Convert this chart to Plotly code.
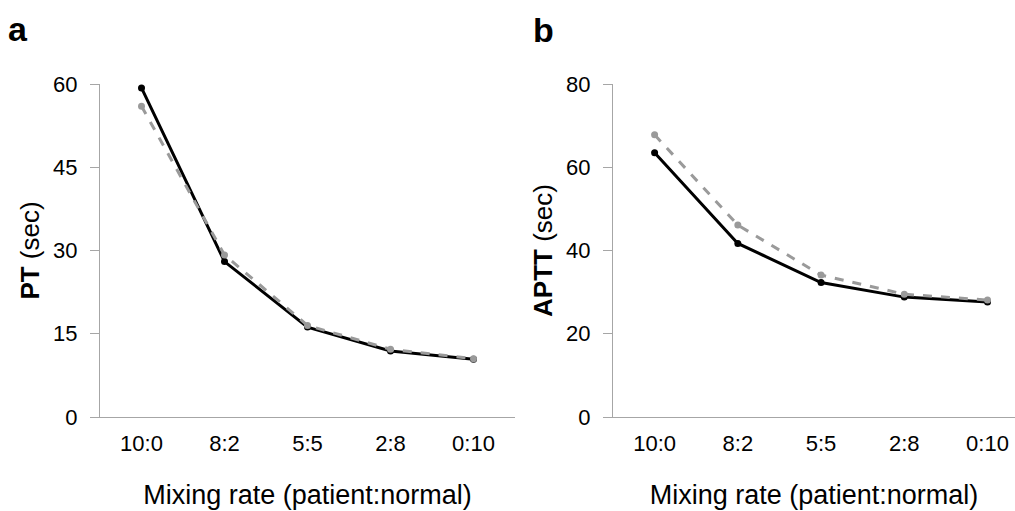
import plotly.graph_objects as go

categories = ["10:0", "8:2", "5:5", "2:8", "0:10"]
pt_black = [59.3, 28.0, 16.2, 11.9, 10.4]
pt_gray = [56.0, 29.2, 16.5, 12.2, 10.5]
aptt_black = [63.5, 41.7, 32.3, 28.8, 27.6]
aptt_gray = [67.8, 46.1, 34.1, 29.5, 28.1]
pt_ticks = [0, 15, 30, 45, 60]
aptt_ticks = [0, 20, 40, 60, 80]

FONT = "Liberation Sans, Arial, sans-serif"
AXIS_GRAY = "#a6a6a6"
GRAY = "#9a9a9a"

W, H = 1015, 511
T, B = 84, 94
PH = H - T - B

fig = go.Figure()

def add_pair(xa, ya, black, gray):
    fig.add_trace(go.Scatter(x=categories, y=black, mode="lines+markers",
                             line=dict(color="black", width=3),
                             marker=dict(color="black", size=7),
                             xaxis=xa, yaxis=ya, showlegend=False))
    fig.add_trace(go.Scatter(x=categories, y=gray, mode="lines+markers",
                             line=dict(color=GRAY, width=3, dash="dash"),
                             marker=dict(color=GRAY, size=7),
                             xaxis=xa, yaxis=ya, showlegend=False))

add_pair("x", "y", pt_black, pt_gray)
add_pair("x2", "y2", aptt_black, aptt_gray)

xcommon = dict(type="category", showline=True, linecolor=AXIS_GRAY, linewidth=1,
               ticks="", showgrid=False, zeroline=False,
               tickfont=dict(family=FONT, size=22, color="black"),
               ticklabelstandoff=7, ticklabeloverflow="allow")
ycommon = dict(showline=True, linecolor=AXIS_GRAY, linewidth=1,
               ticks="outside", ticklen=9, tickcolor=AXIS_GRAY, tickwidth=1,
               showgrid=False, zeroline=False,
               tickfont=dict(family=FONT, size=22, color="black"),
               ticklabelstandoff=8)

xtitle_font = dict(family=FONT, size=27, color="black")
ytitle_font = dict(family=FONT, size=26, color="black")

fig.update_layout(
    width=W, height=H,
    margin=dict(l=0, r=0, t=T, b=B),
    plot_bgcolor="white", paper_bgcolor="white",
    xaxis=dict(domain=[100/W, 515/W], range=[-0.5, 4.5], anchor="y",
               title=dict(text="Mixing rate (patient:normal)", standoff=29,
                          font=xtitle_font),
               **xcommon),
    xaxis2=dict(domain=[613/W, 1.0], range=[-0.5, 4.33], anchor="y2",
                title=dict(text="Mixing rate (patient:normal)", standoff=29,
                           font=xtitle_font),
                **xcommon),
    yaxis=dict(range=[0, 60], tickvals=pt_ticks, anchor="x",
               title=dict(text="<b>PT</b> (sec)", standoff=6, font=ytitle_font),
               **ycommon),
    yaxis2=dict(range=[0, 80], tickvals=aptt_ticks, anchor="x2",
                title=dict(text="<b>APTT</b> (sec)", standoff=6, font=ytitle_font),
                **ycommon),
    annotations=[
        dict(text="<b>a</b>", x=6/W, y=1 + (T - 29)/PH, xref="paper", yref="paper",
             xanchor="left", yanchor="middle", showarrow=False,
             font=dict(family=FONT, size=34, color="black")),
        dict(text="<b>b</b>", x=531/W, y=1 + (T - 30)/PH, xref="paper", yref="paper",
             xanchor="left", yanchor="middle", showarrow=False,
             font=dict(family=FONT, size=34, color="black")),
    ],
)

fig.write_html(
    "out.html",
    config={"displayModeBar": False},
    post_script="document.body.style.margin='0';document.body.style.overflow='hidden';",
)
